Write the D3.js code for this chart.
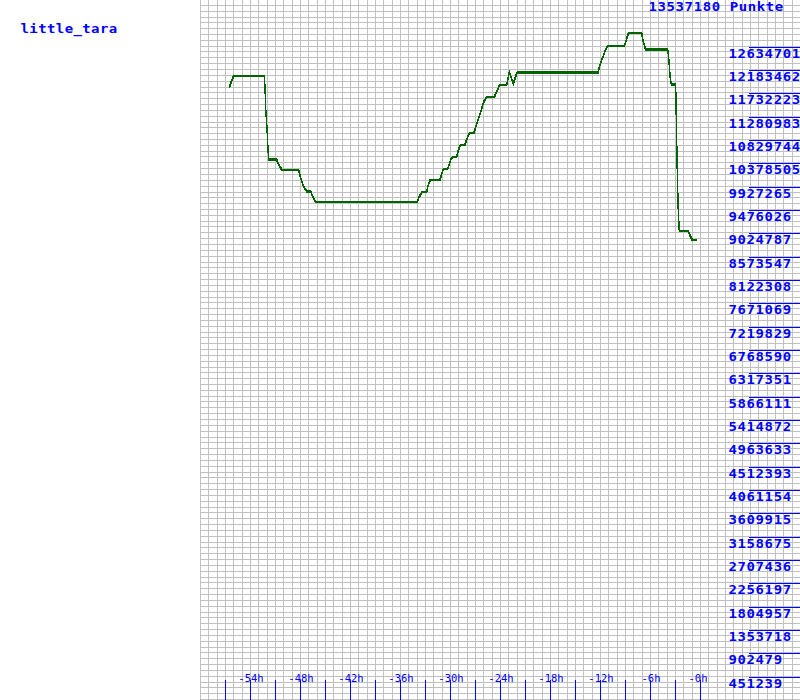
<!DOCTYPE html>
<html>
<head>
<meta charset="utf-8">
<script src="https://cdn.jsdelivr.net/npm/d3@7"></script>
<style>
html,body{margin:0;padding:0;background:#fff;}
svg{display:block;}
text{font-family:"DejaVu Sans Mono",monospace;fill:#0000ff;}
</style>
</head>
<body>
<svg id="chart" width="800" height="700"></svg>
<script>
// ---- data ----
const playerName = "little_tara";
const maxPoints = 13537180;
const unitLabel = "Punkte";
const hours = [-56.48,-56.36,-56.24,-56.12,-56.00,-52.28,-52.20,-52.12,-51.96,-51.84,-51.76,-50.80,-50.68,-50.52,-50.36,-50.20,-48.16,-48.00,-47.80,-47.64,-47.48,-47.32,-47.20,-46.72,-46.56,-46.40,-46.24,-46.08,-33.92,-33.80,-33.60,-33.40,-33.32,-32.80,-32.68,-32.52,-32.36,-31.20,-31.04,-30.88,-30.68,-30.28,-30.08,-29.92,-29.72,-29.20,-29.00,-28.80,-28.60,-28.20,-28.00,-27.80,-27.60,-27.12,-26.92,-26.72,-26.52,-26.32,-26.12,-25.92,-25.68,-25.52,-24.68,-24.48,-24.28,-24.08,-23.88,-23.20,-22.88,-22.60,-22.40,-22.16,-21.92,-12.20,-12.08,-11.92,-11.76,-11.60,-11.44,-11.28,-11.12,-9.08,-8.92,-8.80,-8.68,-8.56,-7.00,-6.88,-6.76,-6.64,-6.52,-3.88,-3.80,-3.72,-3.64,-3.56,-3.44,-2.92,-2.88,-2.80,-2.72,-2.60,-2.48,-1.40,-1.28,-1.16,-1.04,-0.92,-0.32];
const points = [11849000,11912700,11964900,12009400,12073200,12073200,11860500,11454400,11067600,10669400,10462300,10462300,10410100,10359800,10313400,10263100,10263100,10152900,10042700,9973000,9915000,9876300,9843500,9843500,9779600,9721600,9669400,9636500,9636500,9702300,9766100,9818300,9829900,9829900,9926600,10011700,10069700,10069700,10152900,10249600,10274700,10274700,10379200,10456500,10506800,10506800,10636400,10727200,10746600,10746600,10849100,10926400,10978700,10978700,11087000,11183600,11280300,11377000,11493100,11584000,11655500,11667100,11667100,11744500,11816000,11893400,11906900,11906900,12150600,12023000,11926300,12053900,12145000,12145000,12247400,12332500,12409800,12460100,12537500,12603200,12653500,12653500,12730900,12796600,12860300,12912500,12912500,12796600,12719200,12653500,12589700,12589700,12506400,12344300,12183500,12023000,11912700,11912700,11570400,10862600,10152900,9443200,9075700,9075700,9025400,8979000,8940300,8901700,8901700];
const xTickHours = [-57,-54,-51,-48,-45,-42,-39,-36,-33,-30,-27,-24,-21,-18,-15,-12,-9,-6,-3,0];
const xLabelHours = [-54,-48,-42,-36,-30,-24,-18,-12,-6,0];
const yLabelValues = [12634701,12183462,11732223,11280983,10829744,10378505,9927265,9476026,9024787,8573547,8122308,7671069,7219829,6768590,6317351,5866111,5414872,4963633,4512393,4061154,3609915,3158675,2707436,2256197,1804957,1353718,902479,451239];

// ---- scales ----
const svg = d3.select("#chart");
const x = d3.scaleLinear().domain([-60, 12]).range([200, 800]);
const y = d3.scaleLinear().domain([0, maxPoints]).range([700, 0]);

// ---- grid ----
const grid = svg.append("g").attr("stroke", "#c0c0c0").attr("stroke-width", 1).attr("shape-rendering", "crispEdges");
d3.range(-60, 12).forEach(h => {
  const px = Math.round(x(h)) + 0.5;
  grid.append("line").attr("x1", px).attr("x2", px).attr("y1", 0).attr("y2", 700);
});
const gStep = maxPoints / 120;
d3.range(0, 121).forEach(k => {
  const py = Math.round(y(k * gStep) - 1) + 0.5;
  grid.append("line").attr("x1", 200).attr("x2", 800).attr("y1", py).attr("y2", py);
});

// ---- helper for bitmap-like text ----
function bigText(g, tx, ty, str, spacing) {
  g.append("text")
    .attr("transform", `translate(${tx},${ty}) scale(1,0.82)`)
    .attr("font-size", "14px").attr("font-weight", "bold")
    .attr("letter-spacing", spacing + "px")
    .text(str);
}

// ---- x ticks ----
const xt = svg.append("g").attr("stroke", "#0000ff").attr("shape-rendering", "crispEdges");
xTickHours.forEach(h => {
  const px = Math.round(x(h)) + 0.5;
  xt.append("line").attr("x1", px).attr("x2", px).attr("y1", 680).attr("y2", 700);
});
svg.append("g").selectAll("text").data(xLabelHours).join("text")
  .attr("x", d => x(d) + (d === 0 ? -2 : 1))
  .attr("y", 681.5)
  .attr("text-anchor", "middle")
  .attr("font-size", "10.5px")
  .text(d => "-" + Math.abs(d) + "h");

// ---- y labels ----
const yl = svg.append("g");
yLabelValues.forEach(v => {
  const py = Math.round(y(v)) + 0.5;
  yl.append("line").attr("x1", 749).attr("x2", 800).attr("y1", py).attr("y2", py)
    .attr("stroke", "#0000ff").attr("shape-rendering", "crispEdges");
  bigText(yl, 728.5, y(v) + 11, String(v), 0.6);
});

// ---- titles ----
bigText(svg, 648.5, 10.5, maxPoints + " " + unitLabel, 0.6);
bigText(svg, 20.5, 33, playerName, 0.4);

// ---- data line ----
const data = hours.map((h, i) => [h, points[i]]);
const line = d3.line().x(d => x(d[0])).y(d => y(d[1]));
[0, 1].forEach(off => {
  svg.append("path").datum(data)
    .attr("d", line)
    .attr("transform", `translate(0,${off})`)
    .attr("fill", "none")
    .attr("stroke", "#006400")
    .attr("stroke-width", 1.4)
    .attr("shape-rendering", "crispEdges");
});
</script>
</body>
</html>
